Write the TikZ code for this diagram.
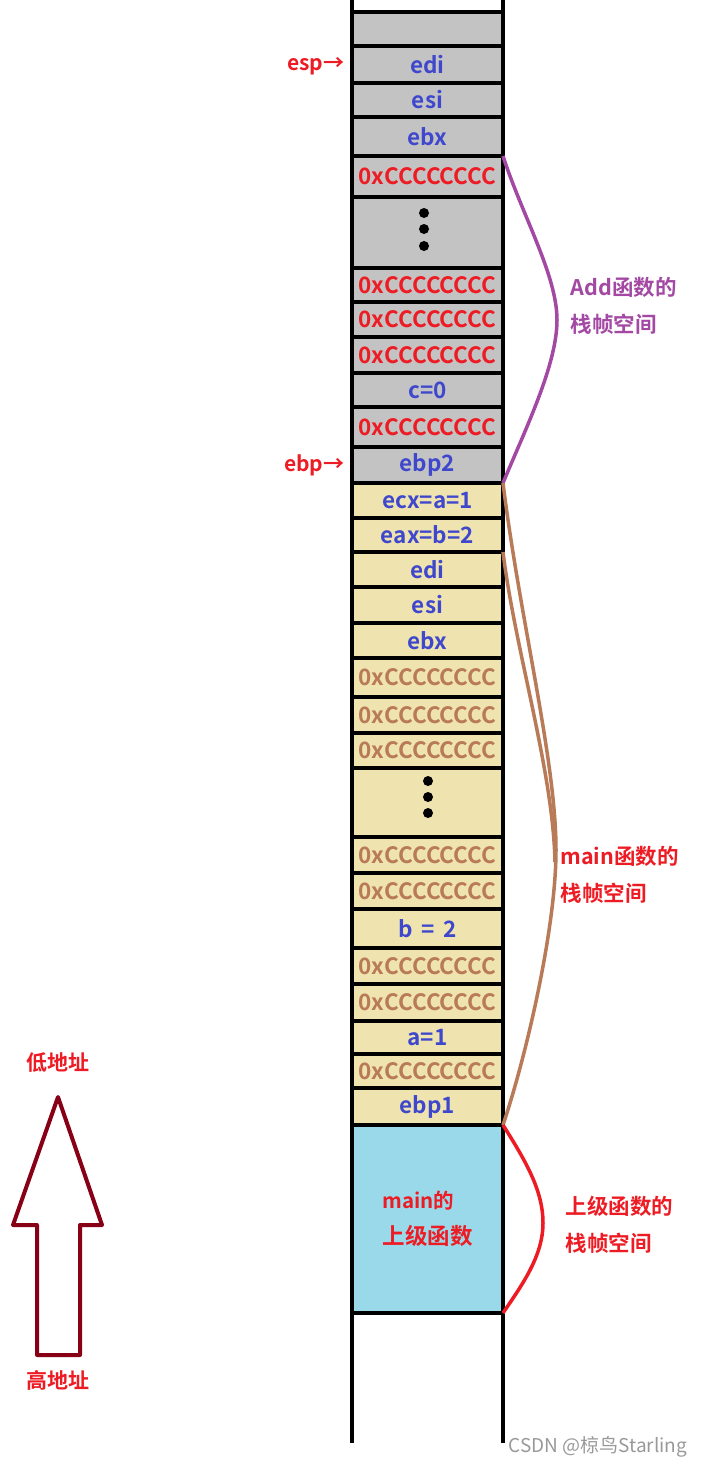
\documentclass[tikz,border=0pt]{standalone}
\usepackage{fontspec}
\setmainfont{Noto Sans CJK SC}[BoldFont={* Bold}]
\usepackage{xcolor}
\usepackage{tikz}

\definecolor{cellgray}{HTML}{C3C3C3}
\definecolor{cellyellow}{HTML}{EFE4B0}
\definecolor{cellcyan}{HTML}{99D9EA}
\definecolor{regblue}{HTML}{3F48CC}
\definecolor{regred}{HTML}{ED1C24}
\definecolor{fillbrown}{HTML}{B97A57}
\definecolor{framepurple}{HTML}{A349A4}
\definecolor{arrowred}{HTML}{880015}

\begin{document}
\begin{tikzpicture}[x=1pt,y=-1pt,
    cell/.style={draw=black, line width=4pt, rectangle, minimum width=151pt,
        inner sep=0pt, outer sep=0pt, align=left,
        font=\bfseries\fontsize{22.5}{36}\selectfont},
    framecurve/.style={line width=3.5pt},
    framelabel/.style={anchor=west, align=left, font=\bfseries\fontsize{21.5}{37}\selectfont}]

    \useasboundingbox (0,0) rectangle (701,1467);

    % stack column
    \draw[line width=4pt] (352,0) -- (352,1443);
    \draw[line width=4pt] (503,0) -- (503,1443);

    \foreach \t/\b/\fc/\tc/\txt [count=\i] in {
        12/46/cellgray/black/{},
        46/83/cellgray/regblue/edi,
        83/117/cellgray/regblue/esi,
        117/156/cellgray/regblue/ebx,
        156/197/cellgray/regred/0xCCCCCCCC,
        197/268/cellgray/black/{},
        268/302/cellgray/regred/0xCCCCCCCC,
        302/337/cellgray/regred/0xCCCCCCCC,
        337/373/cellgray/regred/0xCCCCCCCC,
        373/407/cellgray/regblue/c=0,
        407/447/cellgray/regred/0xCCCCCCCC,
        447/483/cellgray/regblue/ebp2,
        483/518/cellyellow/regblue/ecx=a=1,
        518/552/cellyellow/regblue/eax=b=2,
        552/587/cellyellow/regblue/edi,
        587/623/cellyellow/regblue/esi,
        623/658/cellyellow/regblue/ebx,
        658/697/cellyellow/fillbrown/0xCCCCCCCC,
        697/733/cellyellow/fillbrown/0xCCCCCCCC,
        733/768/cellyellow/fillbrown/0xCCCCCCCC,
        768/837/cellyellow/black/{},
        837/873/cellyellow/fillbrown/0xCCCCCCCC,
        873/909/cellyellow/fillbrown/0xCCCCCCCC,
        909/948/cellyellow/regblue/b\, = \,2,
        948/984/cellyellow/fillbrown/0xCCCCCCCC,
        984/1021/cellyellow/fillbrown/0xCCCCCCCC,
        1021/1054/cellyellow/regblue/a=1,
        1054/1088/cellyellow/fillbrown/0xCCCCCCCC,
        1088/1125/cellyellow/regblue/ebp1,
        1125/1313/cellcyan/regred/{\fontsize{20.5}{36}\selectfont main的\\上级函数}}
    \node[cell, fill=\fc, text=\tc, minimum height={(\b-\t)*1pt}] (c\i) at (427.5,{(\t+\b)/2}) {\txt};

    % dots
    \foreach \y in {213,229,246}
    \fill (424,\y) circle (5pt);
    \foreach \y in {781,797,813}
    \fill (428,\y) circle (5pt);

    % pointers
    \node[anchor=east, text=regred, font=\bfseries\fontsize{21}{24}\selectfont] (esp) at (348,66) {esp→};
    \node[anchor=east, text=regred, font=\bfseries\fontsize{21}{24}\selectfont] (ebp) at (348,465) {ebp→};

    % frames
    \draw[framecurve, framepurple] (c5.north east) .. controls (522,215) and (557,275) .. (557,320)
        .. controls (557,365) and (525,430) .. (c12.south east);
    \draw[framecurve, fillbrown] (c13.north east) .. controls (520,620) and (556,760) .. (556,850)
        .. controls (556,930) and (525,1060) .. (c29.south east);
    \draw[framecurve, fillbrown] (c15.north east) .. controls (515,650) and (553,770) .. (555,862);
    \draw[framecurve, regred] (c30.north east) .. controls (525,1160) and (543,1190) .. (543,1223)
        .. controls (543,1256) and (522,1285) .. (c30.south east);

    \node[framelabel, text=framepurple] (addlbl) at (567,306) {Add函数的\\栈帧空间};
    \node[framelabel, text=regred] (mainlbl) at (557,875) {main函数的\\栈帧空间};
    \node[framelabel, text=regred] (uplbl) at (562,1225) {上级函数的\\栈帧空间};

    % address direction
    \draw[line width=4pt, arrowred, line join=round]
    (58,1097) -- (102,1225) -- (80,1225) -- (80,1355) -- (37,1355) -- (37,1225) -- (13,1225) -- cycle;
    \node[text=regred, font=\bfseries\fontsize{21}{24}\selectfont] (low) at (58,1063) {低地址};
    \node[text=regred, font=\bfseries\fontsize{21}{24}\selectfont] (high) at (58,1380) {高地址};

    \node[anchor=west, text=black!40, font=\fontsize{19}{22}\selectfont] (mark) at (505,1447) {CSDN @椋鸟Starling};

\end{tikzpicture}
\end{document}
